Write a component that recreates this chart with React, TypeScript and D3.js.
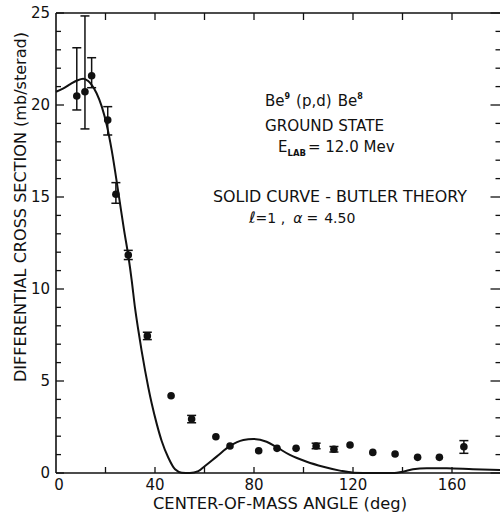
import React from "react";
import * as d3 from "d3";

// ---- data ----
const angles = [8.4, 11.7, 14.4, 20.9, 24.2, 29.2, 36.9, 46.5, 54.8, 64.6, 70.3, 81.9, 89.3, 97.0, 105.1, 112.3, 118.8, 128.0, 137.0, 146.1, 154.9, 164.8];
const sigma = [20.49, 20.72, 21.59, 19.18, 15.15, 11.85, 7.45, 4.2, 2.93, 1.97, 1.47, 1.21, 1.34, 1.34, 1.47, 1.29, 1.52, 1.12, 1.03, 0.85, 0.85, 1.43];
const errHi = [23.11, 24.84, 22.57, 19.91, 15.78, 12.1, 7.65, NaN, 3.13, NaN, NaN, NaN, NaN, NaN, 1.62, 1.44, NaN, NaN, NaN, NaN, NaN, 1.76];
const errLo = [19.73, 18.7, 20.94, 18.37, 14.66, 11.6, 7.25, NaN, 2.73, NaN, NaN, NaN, NaN, NaN, 1.32, 1.14, NaN, NaN, NaN, NaN, NaN, 1.07];

const theoryAngle = [0, 3, 6, 8.5, 11, 13, 14.4, 16.4, 18.5, 20.5, 22.5, 25.3, 27.5, 29.2, 30.6, 31.9, 33.3, 34.6, 36.0, 37.3, 38.7, 40.7, 42.7, 45.4, 48.1, 50.8, 54.1, 57.5, 60.2, 64.9, 70.3, 75.7, 79.7, 85.1, 89.2, 94.5, 101.3, 108, 114.7, 120, 128, 136, 140.2, 144.2, 149.8, 157.9, 168.5, 180];
const theoryValue = [20.72, 20.9, 21.15, 21.33, 21.43, 21.3, 21.09, 20.64, 19.91, 18.91, 17.55, 15.15, 13.2, 11.82, 10.46, 9.0, 7.73, 6.64, 5.56, 4.65, 3.76, 2.67, 1.74, 0.83, 0.2, 0.02, 0, 0.1, 0.38, 0.89, 1.47, 1.79, 1.85, 1.7, 1.4, 0.98, 0.61, 0.34, 0.13, 0.02, 0, 0, 0.07, 0.2, 0.26, 0.26, 0.2, 0.16];

const xTickLabels = [0, 40, 80, 120, 160];
const xTicks = [20, 40, 60, 80, 100, 120, 140, 160];
const yTickLabels = [0, 5, 10, 15, 20, 25];

const W = 500;
const H = 512;
const FONT = "'DejaVu Sans', sans-serif";
const INK = "#111";

export default function App() {
  const x = d3.scaleLinear().domain([0, 180]).range([56, 501.5]);
  const y = d3.scaleLinear().domain([0, 25]).range([473, 13]);

  const line = d3
    .line<number>()
    .x((_, i) => x(theoryAngle[i]))
    .y((_, i) => y(theoryValue[i]))
    .curve(d3.curveMonotoneX);

  const yMinor = d3.range(0, 26, 1);

  return (
    <svg
      width={W}
      height={H}
      style={{ position: "absolute", left: 0, top: 0, background: "#fff" }}
      fontFamily={FONT}
    >
      <rect x={0} y={0} width={W} height={H} fill="#fff" />

      {/* frame */}
      <g stroke={INK} fill="none">
        <line x1={x(0)} x2={x(180)} y1={y(25)} y2={y(25)} strokeWidth={1.6} />
        <line x1={x(0)} x2={x(180)} y1={y(0)} y2={y(0)} strokeWidth={1.6} />
        <line x1={x(0)} x2={x(0)} y1={y(0)} y2={y(25)} strokeWidth={1.6} />
        <line x1={x(180)} x2={x(180)} y1={y(0)} y2={y(25)} strokeWidth={1.6} />
      </g>

      {/* ticks */}
      <g stroke={INK} strokeWidth={1.3}>
        {yMinor.map((v) => {
          const major = v % 5 === 0;
          return (
            <g key={"yt" + v}>
              <line x1={x(0)} x2={x(0) + (major ? 8 : 5)} y1={y(v)} y2={y(v)} />
              <line x1={x(180)} x2={x(180) - (major ? 11 : 6)} y1={y(v)} y2={y(v)} />
            </g>
          );
        })}
        {xTicks.map((t) => (
          <g key={"xt" + t}>
            <line x1={x(t)} x2={x(t)} y1={y(0)} y2={y(0) - 6} />
            <line x1={x(t)} x2={x(t)} y1={y(25)} y2={y(25) + 7} />
          </g>
        ))}
      </g>

      {/* tick labels */}
      <g fill={INK} fontSize={15}>
        {yTickLabels.map((v) => (
          <text key={"yl" + v} x={50} y={y(v) + 5} textAnchor="end">
            {v}
          </text>
        ))}
        {xTickLabels.map((t) => (
          <text key={"xl" + t} x={x(t) + (t === 0 ? 3 : 0)} y={490} textAnchor="middle">
            {t}
          </text>
        ))}
      </g>

      {/* axis titles */}
      <text
        x={280}
        y={509}
        textAnchor="middle"
        fontSize={15}
        fill={INK}
        textLength={254}
        lengthAdjust="spacingAndGlyphs"
      >
        CENTER-OF-MASS ANGLE (deg)
      </text>
      <text
        transform="translate(25.5,207) rotate(-90)"
        textAnchor="middle"
        fontSize={15}
        fill={INK}
        textLength={350}
        lengthAdjust="spacingAndGlyphs"
      >
        DIFFERENTIAL CROSS SECTION (mb/sterad)
      </text>

      {/* theory curve */}
      <path d={line(theoryAngle) || ""} fill="none" stroke={INK} strokeWidth={2} />

      {/* error bars */}
      <g stroke={INK} strokeWidth={1.5}>
        {angles.map((a, i) =>
          isNaN(errHi[i]) ? null : (
            <g key={"e" + i}>
              <line x1={x(a)} x2={x(a)} y1={y(errHi[i])} y2={y(errLo[i])} />
              <line x1={x(a) - 4.5} x2={x(a) + 4.5} y1={y(errHi[i])} y2={y(errHi[i])} />
              <line x1={x(a) - 4.5} x2={x(a) + 4.5} y1={y(errLo[i])} y2={y(errLo[i])} />
            </g>
          )
        )}
      </g>

      {/* data points */}
      <g fill={INK}>
        {angles.map((a, i) => (
          <circle key={"p" + i} cx={x(a)} cy={y(sigma[i])} r={3.8} />
        ))}
      </g>

      {/* annotations */}
      <g fill={INK} fontSize={15}>
        <text x={265} y={106}>
          Be
          <tspan fontSize={8} fontWeight="bold" dy={-7}>9</tspan>
          <tspan dy={7} dx={6}>(p,d)</tspan>
          <tspan dx={6}>Be</tspan>
          <tspan fontSize={8} fontWeight="bold" dy={-7}>8</tspan>
        </text>
        <text x={265} y={131} textLength={119} lengthAdjust="spacingAndGlyphs">
          GROUND STATE
        </text>
        <text x={278} y={152}>
          E
          <tspan fontSize={8.5} fontWeight="bold" dy={4}>LAB</tspan>
          <tspan dy={-4} dx={2}>= 12.0 Mev</tspan>
        </text>
        <text x={213} y={202} textLength={254} lengthAdjust="spacingAndGlyphs">
          SOLID CURVE - BUTLER THEORY
        </text>
        <text x={249} y={223} fontSize={14}>
          <tspan fontStyle="italic" fontSize={16}>ℓ</tspan>
          <tspan>=1 ,</tspan>
          <tspan dx={8} fontStyle="italic">α</tspan>
          <tspan dx={4}>=</tspan>
          <tspan dx={6}>4.50</tspan>
        </text>
      </g>
    </svg>
  );
}
